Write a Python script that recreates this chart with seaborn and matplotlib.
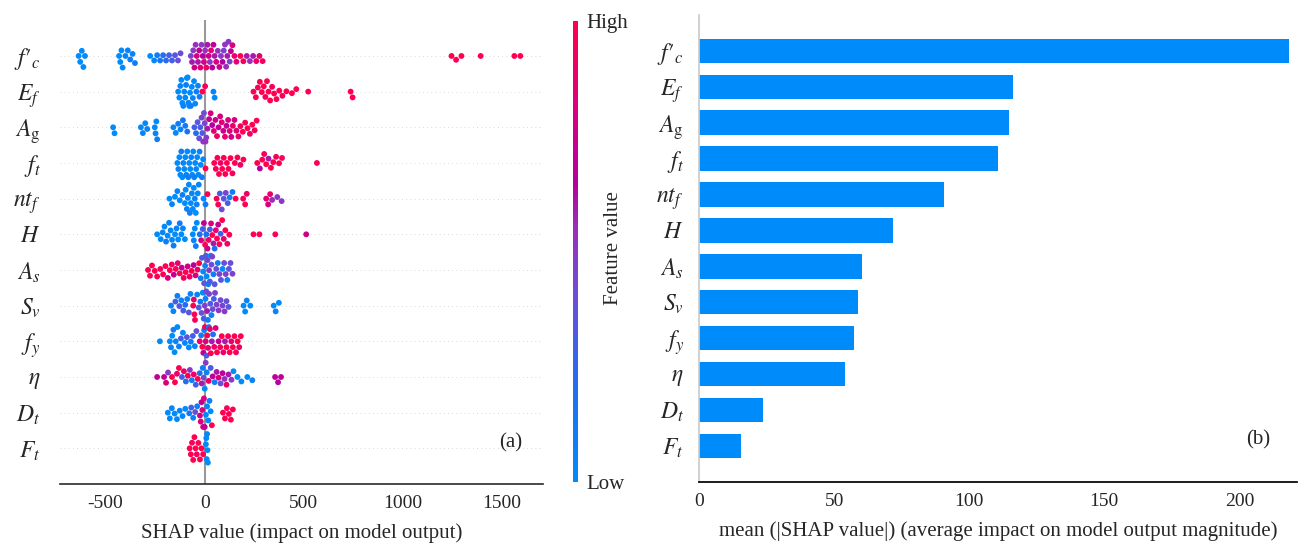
import numpy as np
import pandas as pd
import matplotlib
matplotlib.use("Agg")
import matplotlib.pyplot as plt
import seaborn as sns
from matplotlib.colors import LinearSegmentedColormap, Normalize
from matplotlib.cm import ScalarMappable

# --- datos ---
features = [r"$f{\prime}_{c}$", r"$E_f$", r"$A_\mathrm{g}$", r"$f_t$", r"$nt_f$", r"$H$",
            r"$A_s$", r"$S_v$", r"$f_y$", r"$\eta$", r"$D_t$", r"$F_t$"]

mean_abs_shap = [218.5, 116.3, 114.6, 110.8, 90.8, 71.9, 60.3, 58.8, 57.2, 54.1, 23.7, 15.4]

# valores SHAP por variable y valor normalizado de la variable (0 = bajo, 1 = alto)
shap_fc = [-636, -628, -620, -612, -604,
           -432, -426, -420, -414, -400, -388, -376, -364, -352,
           -275, -255, -240, -225, -210, -195, -180, -165, -150, -135, -122,
           -70, -64, -58, -52, -46, -40, -34, -28, -22, -16, -10, -4, 2, 8, 14, 20, 26, 32,
           38, 44, 50, 58, 66, 74, 82, 90, 96, 102, 108, 114, 120, 126, 132, 140, 150, 160,
           180, 195, 212, 228, 244, 260, 276, 292,
           1245, 1268, 1295, 1392, 1562, 1592]
val_fc = [0, 0, 0, 0, 0,
          0, 0, 0, 0, 0.05, 0.05, 0.1, 0.05, 0.1,
          0.0, 0.05, 0.1, 0.15, 0.2, 0.25, 0.3, 0.3, 0.35, 0.4, 0.4,
          0.45, 0.6, 0.5, 0.75, 0.55, 0.8, 0.6, 0.7, 0.85, 0.5, 0.65, 0.8, 0.55, 0.9, 0.6, 0.75, 0.5, 0.85,
          0.65, 0.7, 0.6, 0.8, 0.55, 0.75, 0.5, 0.65, 0.45, 0.5, 0.55, 0.6, 0.5, 0.45, 0.7, 0.8, 0.9, 0.85,
          1.0, 0.95, 0.6, 0.55, 0.6, 0.9, 0.85, 0.95,
          1, 1, 1, 1, 1, 1]

shap_Ef = [-134, -128, -123, -118, -113, -108, -103, -98, -94, -90, -86, -82, -78, -74, -70, -65,
           -60, -54, -48, -42, -34, -26,
           -12, 2, 44, 50,
           246, 258, 268, 278, 288, 298, 306, 314, 322, 330, 340, 350, 362, 376, 392, 412,
           440, 462, 522, 736, 746]
val_Ef = [0, 0, 0.05, 0, 0, 0.05, 0, 0, 0.1, 0, 0, 0.05, 0, 0, 0.1, 0,
          0.05, 0, 0, 0.1, 0.05, 0.1,
          1.0, 0.95, 0.05, 0.0,
          1, 1, 0.95, 1, 1, 1, 0.95, 1, 1, 1, 0.95, 1, 1, 1, 0.95, 1,
          1, 1, 1, 1, 1]

shap_Ag = [-462, -455,
           -322, -312, -300, -290,
           -252, -248, -244, -240,
           -158, -146, -134, -122, -110, -98, -88,
           -52, -44, -36, -28, -22, -16, -12, -8, -4, 0, 4, 8, 14,
           22, 30, 38, 46, 54, 62, 70, 78, 86, 94, 102, 110, 118, 126, 134, 142, 150, 160, 170, 180,
           192, 204, 216, 228, 240, 252, 262]
val_Ag = [0, 0,
          0, 0.05, 0, 0.05,
          0, 0.05, 0, 0.1,
          0.05, 0, 0.1, 0.05, 0.15, 0.1, 0.2,
          0.3, 0.2, 0.35, 0.4, 0.3, 0.45, 0.35, 0.5, 0.4, 0.45, 0.55, 0.5, 0.6,
          0.7, 0.8, 0.65, 0.85, 0.75, 0.9, 0.7, 0.8, 0.85, 0.75, 0.9, 0.7, 0.8, 0.85, 0.75, 0.9, 0.8, 0.85, 0.9, 0.95,
          1.0, 0.95, 1.0, 0.9, 1.0, 0.95, 1.0]

shap_ft = [-138, -133, -128, -123, -118, -113, -108, -103, -98, -93, -88, -83, -78, -73, -68, -63,
           -58, -53, -48, -43, -38, -32, -26, -20, -14, -8,
           4, 48, 56, 64, 72, 80, 88, 96, 104, 112, 120, 130, 140, 152, 165, 180, 195,
           265, 278, 290, 300, 310, 322, 334, 346, 360, 375, 390, 566]
val_ft = [0, 0.05, 0, 0, 0.1, 0, 0.05, 0, 0, 0.05, 0, 0.1, 0, 0, 0.05, 0,
          0, 0.1, 0, 0.05, 0, 0, 0.05, 0, 0.1, 0,
          1, 1, 0.95, 1, 1, 0.9, 1, 1, 0.95, 1, 1, 1, 0.95, 1, 1, 0.9, 1,
          1, 0.65, 1, 0.95, 1, 0.6, 1, 1, 0.95, 1, 0.95, 1]

shap_ntf = [-178, -165, -150, -138, -126, -112, -100,
            -96, -90, -85, -80, -75, -70, -65, -60, -55, -50, -45, -40, -35, -30,
            -6, 4, 14,
            60, 68, 76,
            86, 96, 106, 116, 126,
            140, 156,
            194, 204, 212,
            310, 320, 330, 340,
            366, 388, 410]
val_ntf = [0, 0.05, 0, 0.05, 0, 0.1, 0,
           0, 0.05, 0, 0, 0.1, 0, 0.05, 0, 0, 0.05, 0, 0.1, 0,
           0.05, 0, 0.1,
           1, 0.95, 1,
           0.3, 0.4, 0.35, 0.45, 0.3,
           0.05, 0.1,
           1, 0.95, 1,
           0.9, 0.85, 0.8, 0.9,
           0.55, 0.5, 0.5]

shap_H = [-240, -222, -212, -203, -195, -187, -180, -172, -165, -157, -150, -142, -134, -126, -118, -110, -100,
          -60, -55, -50, -45, -40,
          -25, -18, -10, -4, 2, 8, 14, 20, 26, 32, 38, 44, 50, 56, 62, 68, 74, 80, 88, 96, 104, 114, 124,
          246, 276, 356, 512]
val_H = [0, 0, 0.05, 0, 0.1, 0, 0.05, 0, 0, 0.1, 0, 0.05, 0, 0.1, 0, 0.05, 0,
         0, 0.05, 0, 0.1, 0,
         0.2, 0.8, 0.3, 0.7, 1.0, 0.2, 0.75, 0.9, 0.3, 0.8, 1.0, 0.6, 0.2, 0.85, 1.0, 0.7, 0.95, 0.3, 1.0, 0.9, 1.0, 0.95, 1.0,
         1, 1, 1, 0.75]

shap_As = [-286, -276, -266, -252, -240, -224, -210, -198, -186, -176, -166, -156, -146, -136, -126, -116,
           -106, -96, -86, -76, -66, -56, -46, -36, -28,
           -20, -14, -8, -3, 2, 6, 10, 14, 18, 22, 26, 30, 34, 38, 44, 50,
           58, 66, 74, 82, 90, 98, 106, 114, 122, 130, 140]
val_As = [1, 1, 1, 1, 1, 0.95, 1, 1, 0.8, 1, 0.9, 0.7, 1, 0.85, 1, 0.7,
          0.95, 1, 0.75, 0.9, 1, 0.65, 0.8, 0.9, 1,
          0.1, 0.3, 0.0, 0.4, 0.05, 0.35, 0.0, 0.45, 0.1, 0.5, 0.3, 0.0, 0.4, 0.45, 0.1, 0.35,
          0.4, 0.1, 0.45, 0.35, 0.0, 0.4, 0.45, 0.05, 0.35, 0.4, 0.45]

shap_Sv = [-170, -158, -148, -138, -128, -118, -108, -98, -88, -80, -72,
           -58, -55, -52, -49,
           -38, -30, -22, -16, -10, -5, 0, 4, 8, 12, 16, 22, 28, 34, 40, 46, 52,
           60, 70, 80, 90, 100, 110, 120,
           196, 204, 212, 230,
           348, 358, 374]
val_Sv = [0.1, 0.05, 0.3, 0.1, 0.35, 0.05, 0.3, 0.2, 0.1, 0.35, 0.05,
          1, 0.9, 1, 0.95,
          0.05, 0.35, 0.1, 0.4, 0.0, 0.3, 0.45, 0.05, 0.4, 0.6, 0.1, 0.45, 0.35, 0.05, 0.4, 0.3, 0.45,
          0.45, 0.5, 0.4, 0.45, 0.5, 0.4, 0.35,
          0, 0, 0.05, 0,
          0, 0.05, 0]

shap_fy = [-226, -176, -170, -164, -158, -152, -146, -138, -130, -120, -110, -100, -90, -80, -70, -60, -50, -42,
           -25, -18, -12, -7, -3, 1, 5, 9, 13, 17, 21, 26, 31, 36, 42, 48,
           55, 62, 70, 78, 86, 94, 102, 110, 118, 126, 134, 142, 150, 158, 166, 174, 182]
val_fy = [0, 0, 0.05, 0, 0.1, 0, 0.05, 0, 0.1, 0.3, 0, 0.05, 0.35, 0, 0.1, 0.3, 0.05, 0.4,
          0.9, 0.1, 1.0, 0.7, 0.05, 0.95, 0.8, 0.3, 1.0, 0.85, 0.1, 0.9, 1.0, 0.6, 0.2, 0.9,
          0.85, 1, 0.7, 0.95, 1, 0.9, 0.6, 1, 0.95, 1, 0.85, 1, 1, 0.95, 1, 0.9, 1]

shap_eta = [-240, -205, -195, -185, -165, -150, -140, -130, -115, -105, -95, -85, -75, -65, -55, -45, -35, -25, -15,
            -10, -5, 0, 5, 10,
            20, 30, 40, 50, 60, 70, 80, 90, 100, 110, 120, 135,
            145, 165, 185, 215, 240,
            355, 370, 385]
val_eta = [0.7, 0.7, 0.8, 0.5, 1.0, 1.0, 0.9, 1.0, 0.3, 0.9, 0.2, 1.0, 0.5, 0.1, 0.9, 0.3, 1.0, 0.2, 0.6,
           0.1, 0.4, 0.0, 0.5, 0.05,
           0.9, 0.3, 0.7, 0.1, 0.6, 0.8, 0.4, 0.7, 0.55, 0.9, 0.6, 0.5,
           0, 0, 0, 0, 0.05,
           0.7, 0.65, 0.7]

shap_Dt = [-186, -176, -166, -152, -140, -126, -112, -98,
           -78, -68, -58, -48, -38,
           -24, -20, -16, -12, -8, -4, 0,
           6, 12, 18, 24, 30,
           36,
           92, 102, 112, 122, 132, 142]
val_Dt = [0, 0, 0.05, 0, 0, 0.05, 0, 0,
          0.1, 0.3, 0.05, 0.4, 0.1,
          0.75, 0.8, 0.7, 0.85, 0.75, 0.8, 0.7,
          0.0, 0.05, 0.0, 0.1, 0.0,
          1.0,
          1, 1, 0.95, 1, 1, 1]

shap_Ft = [-76, -70, -64, -58, -52, -46, -40, -32, -24, -16, -8,
           6, 8, 10, 12, 14, 16]
val_Ft = [1, 1, 0.95, 1, 1, 1, 0.95, 1, 1, 1, 1,
          0, 0, 0, 0, 0, 0]

shap_lists = [shap_fc, shap_Ef, shap_Ag, shap_ft, shap_ntf, shap_H,
              shap_As, shap_Sv, shap_fy, shap_eta, shap_Dt, shap_Ft]
val_lists = [val_fc, val_Ef, val_Ag, val_ft, val_ntf, val_H,
             val_As, val_Sv, val_fy, val_eta, val_Dt, val_Ft]

filas = []
for nombre, s, v in zip(features, shap_lists, val_lists):
    for a, b in zip(s, v):
        filas.append({"feature": nombre, "shap": a, "valor": b})
df = pd.DataFrame(filas)

# --- estilo ---
sns.set_theme(style="white")
plt.rcParams["font.family"] = ["Liberation Serif", "DejaVu Serif"]
plt.rcParams["mathtext.fontset"] = "stix"
plt.rcParams["axes.unicode_minus"] = False

# mapa de color tipo shap (azul -> morado -> rojo)
shap_cmap = LinearSegmentedColormap.from_list(
    "shap_rb",
    [(0.0, "#008bfb"), (0.2, "#1f6ff0"), (0.4, "#6a4ed8"), (0.55, "#9a2fbb"),
     (0.65, "#b4009f"), (0.8, "#d8007e"), (1.0, "#ff0051")])

W, H_px = 1304, 551
fig = plt.figure(figsize=(W / 100, H_px / 100), dpi=100)
ax1 = fig.add_axes([60 / W, 1 - 484 / H_px, 483.3 / W, 463.7 / H_px])
cax = fig.add_axes([573 / W, 1 - 482 / H_px, 5 / W, 461 / H_px])
ax2 = fig.add_axes([699 / W, 1 - 481.7 / H_px, 598 / W, 466.7 / H_px])

# --- (a) beeswarm ---
for i in range(len(features)):
    ax1.axhline(i, color="#cccccc", lw=0.6, dashes=(1, 4), zorder=-1)
ax1.axvline(0, color="#999999", lw=1.5, zorder=1)
sns.swarmplot(data=df, x="shap", y="feature", hue="valor", order=features,
              palette=shap_cmap, hue_norm=(0, 1), size=4.2, linewidth=0,
              legend=False, orient="h", ax=ax1, zorder=3)
ax1.set_ylim(len(features), -1)
ax1.set_xlim(-730, 1708)
ax1.set_xticks([-500, 0, 500, 1000, 1500])
ax1.set_xlabel("SHAP value (impact on model output)", fontsize=15, labelpad=8)
ax1.set_ylabel("")
ax1.tick_params(axis="y", length=0, labelsize=17, pad=14)
ax1.tick_params(axis="x", labelsize=14, length=3, width=0.8, color="#333333", pad=5)
for lado in ["top", "right", "left"]:
    ax1.spines[lado].set_visible(False)
ax1.spines["bottom"].set_color("#333333")
ax1.text(0.933, 0.088, "(a)", transform=ax1.transAxes, ha="center", va="center", fontsize=15)

# --- barra de color ---
cb = fig.colorbar(ScalarMappable(norm=Normalize(0, 1), cmap=shap_cmap), cax=cax, ticks=[0, 1])
cb.set_ticklabels(["Low", "High"])
cb.outline.set_visible(False)
cax.tick_params(length=0, labelsize=15, pad=6)
fig.text(614 / W, 1 - 248 / H_px, "Feature value", rotation=90, ha="center", va="center", fontsize=15)

# --- (b) barras ---
sns.barplot(x=mean_abs_shap, y=features, order=features, color="#008bfb", saturation=1,
            width=0.68, orient="h", linewidth=0, ax=ax2)
ax2.set_ylim(len(features), -1)
ax2.set_xlim(0, 221.3)
ax2.set_xticks([0, 50, 100, 150, 200])
ax2.set_xlabel("mean (|SHAP value|) (average impact on model output magnitude)", fontsize=15, labelpad=8)
ax2.tick_params(axis="y", length=0, labelsize=17, pad=11)
ax2.tick_params(axis="x", labelsize=14, length=3, width=0.8, color="#333333", pad=5)
ax2.spines["top"].set_visible(False)
ax2.spines["right"].set_visible(False)
ax2.spines["left"].set_color("#cccccc")
ax2.spines["bottom"].set_color("#000000")
ax2.text(0.935, 0.089, "(b)", transform=ax2.transAxes, ha="center", va="center", fontsize=15)

fig.savefig("out.png", dpi=100)
